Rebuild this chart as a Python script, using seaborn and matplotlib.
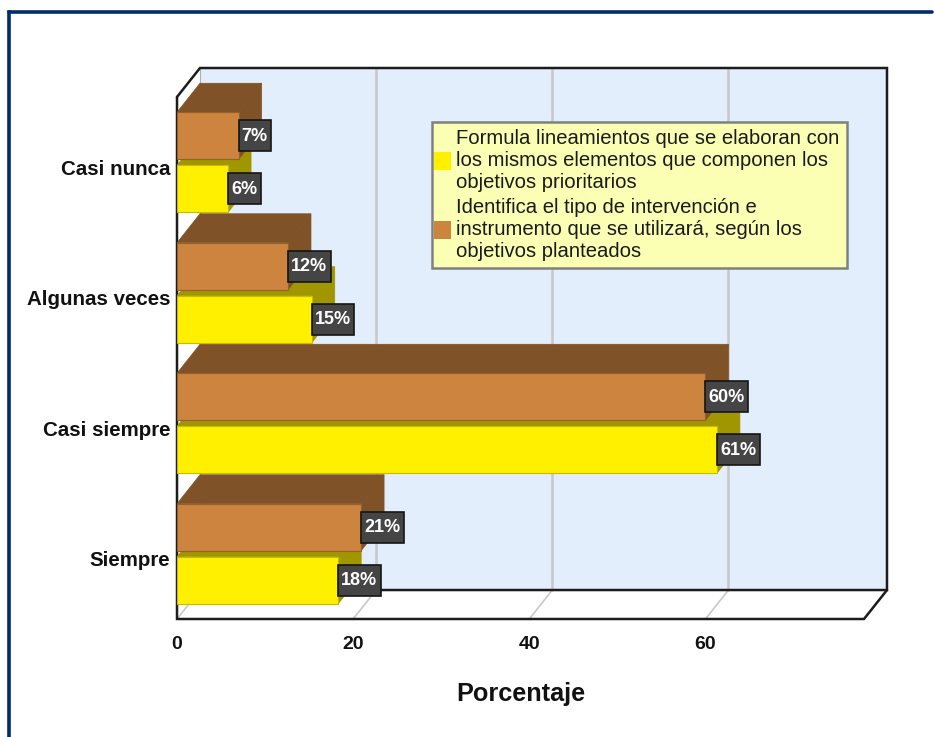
import matplotlib
matplotlib.use("Agg")
import matplotlib.pyplot as plt
from matplotlib.lines import Line2D
from matplotlib.patches import Polygon, Rectangle
from matplotlib.transforms import ScaledTranslation
import pandas as pd
import seaborn as sns

# ================================================================
# DATA
# ================================================================
categories = ["Casi nunca", "Algunas veces", "Casi siempre", "Siempre"]
serie_a = ("Formula lineamientos que se elaboran con\n"
           "los mismos elementos que componen los\n"
           "objetivos prioritarios")
serie_b = ("Identifica el tipo de intervención e\n"
           "instrumento que se utilizará, según los\n"
           "objetivos planteados")
values_a = [5.8, 15.3, 61.3, 18.3]
values_b = [7.0, 12.6, 60.0, 20.9]
labels_a = ["6%", "15%", "61%", "18%"]
labels_b = ["7%", "12%", "60%", "21%"]
x_ticks = [0, 20, 40, 60]

# ================================================================
# STYLE
# ================================================================
W, H, DPI = 934, 737, 100
FRONT_MAX = 78.0
DX = 2.61
DY = 0.222
YELLOW, YELLOW_DARK = "#FFF000", "#A09600"
BROWN, BROWN_DARK = "#CC843F", "#7F5228"
WALL = "#E2EEFB"
GRID = "#C8C8C8"
FRAME = "#1C1C1C"
NAVY = "#002B6E"

sns.set_theme(style="white")
plt.rcParams["font.family"] = ["Liberation Sans", "DejaVu Sans"]

df = pd.DataFrame({
    "categoria": categories * 2,
    "serie": [serie_b] * 4 + [serie_a] * 4,
    "valor": values_b + values_a,
})

fig = plt.figure(figsize=(W / DPI, H / DPI), dpi=DPI, facecolor="white")
ax = fig.add_axes([177 / W, 1 - 619 / H, 710 / W, 551 / H])

sns.barplot(
    data=df, x="valor", y="categoria", hue="serie", order=categories,
    hue_order=[serie_b, serie_a], palette={serie_a: YELLOW, serie_b: BROWN},
    orient="h", width=0.812, gap=0.113, saturation=1, errorbar=None, ax=ax,
    legend=False,
)
ax.set_xlim(0, FRONT_MAX + DX)
ax.set_ylim(3.5, -0.5 - DY)
ax.set_facecolor("none")
for spine in ax.spines.values():
    spine.set_visible(False)

# ================================================================
# 3D BOX (walls, floor, grid)
# ================================================================
y_top, y_bot = -0.5, 3.5
ax.add_patch(Polygon([(DX, y_top - DY), (FRONT_MAX + DX, y_top - DY),
                      (FRONT_MAX + DX, y_bot - DY), (DX, y_bot - DY)],
                     fc=WALL, ec="none", zorder=0))
for t in x_ticks:
    if t > 0:
        ax.plot([t + DX, t + DX], [y_top - DY, y_bot - DY], color=GRID, lw=1.8, zorder=1)
    ax.plot([t, t + DX], [y_bot, y_bot - DY], color=GRID, lw=1.2, zorder=1, clip_on=False)

# left edge of the back wall is only a thin grey line
ax.plot([DX, DX], [y_top - DY, y_bot - DY], color="#B0B0B0", lw=0.8, zorder=1)

outline = [
    [(DX, y_bot - DY), (FRONT_MAX + DX, y_bot - DY), (FRONT_MAX + DX, y_top - DY), (DX, y_top - DY), (0, y_top)],
    [(0, y_top), (0, y_bot), (FRONT_MAX, y_bot), (FRONT_MAX + DX, y_bot - DY)],
]
for pts in outline:
    ax.plot(*zip(*pts), color=FRAME, lw=1.8, zorder=1.5, clip_on=False, solid_joinstyle="miter")

# ================================================================
# BAR DEPTH AND VALUE LABELS
# ================================================================
def add_depth(container, dark, z):
    for bar in container:
        x, y, w, h = bar.get_x(), bar.get_y(), bar.get_width(), bar.get_height()
        end = x + w
        ax.add_patch(Polygon([(x, y), (end, y), (end + DX, y - DY), (x + DX, y - DY)],
                             fc=dark, ec=dark, lw=0.5, zorder=z))
        ax.add_patch(Polygon([(end, y), (end + DX, y - DY), (end + DX, y + h - DY), (end, y + h)],
                             fc=dark, ec=dark, lw=0.5, zorder=z))


def add_labels(container, labels):
    renderer = fig.canvas.get_renderer()
    for bar, text in zip(container, labels):
        end = bar.get_x() + bar.get_width()
        mid = bar.get_y() + bar.get_height() / 2
        px, py = ax.transData.transform((end, mid))
        txt = ax.annotate(text, (end, mid), xytext=(3.0 * 72 / DPI, -0.5), textcoords="offset points",
                          ha="left", va="center", color="white", fontsize=13,
                          fontweight="bold", zorder=11)
        width = txt.get_window_extent(renderer).width + 6.5
        inv = ax.transData.inverted()
        x0, y0 = inv.transform((px, py - 15.5))
        x1, y1 = inv.transform((px + width, py + 15.5))
        ax.add_patch(Rectangle((x0, y0), x1 - x0, y1 - y0, fc="#454545", ec="#151515",
                               lw=1.2, zorder=10, clip_on=False))


brown_bars, yellow_bars = ax.containers
add_depth(yellow_bars, YELLOW_DARK, 2)
add_depth(brown_bars, BROWN_DARK, 3)
for bar in yellow_bars:
    bar.set(zorder=4, edgecolor="#C9BC00", linewidth=0.8)
for bar in brown_bars:
    bar.set(zorder=4, edgecolor="#94602D", linewidth=0.8)
add_labels(brown_bars, labels_b)
add_labels(yellow_bars, labels_a)

# ================================================================
# AXES TEXT
# ================================================================
ax.set_xticks(x_ticks)
ax.set_xticklabels([str(t) for t in x_ticks], fontsize=14, fontweight="bold", color="#111111")
ax.tick_params(axis="x", length=0, pad=12)
ax.tick_params(axis="y", length=0, pad=5)
ax.set_yticks(range(len(categories)))
ax.set_yticklabels(categories, fontsize=14.8, fontweight="bold", color="#111111")
shift = ScaledTranslation(0, -5 / DPI, fig.dpi_scale_trans)
for lab in ax.get_yticklabels():
    lab.set_transform(lab.get_transform() + shift)
ax.set_ylabel("")
ax.set_xlabel("Porcentaje", fontsize=18.2, fontweight="bold", color="#111111", labelpad=21,
              x=(520.5 - 177) / 710)

# ================================================================
# LEGEND
# ================================================================
handles = [Rectangle((0, 0), 1, 1, fc=YELLOW, ec="none"), Rectangle((0, 0), 1, 1, fc=BROWN, ec="none")]
leg = ax.legend(
    handles, [serie_a, serie_b], loc="upper left",
    bbox_to_anchor=((432 - 177) / 710, 1 - (122 - 68) / 551),
    fontsize=14.6, frameon=True, fancybox=False, facecolor="#FAFFB4", edgecolor="#808080",
    framealpha=1, borderpad=0.35, labelspacing=0.3, handlelength=0.85, handleheight=1.0,
    handletextpad=0.0, borderaxespad=0,
)
leg.set_zorder(9)
leg.get_frame().set_linewidth(1.8)
for t in leg.get_texts():
    t.set_color("#1A1A1A")
    t.set_linespacing(1.2)
# swatches sit against the left side of the box
for h in leg.legend_handles:
    h.set_x(h.get_x() - 4.0)

# ================================================================
# OUTER BORDER
# ================================================================
fig.add_artist(Line2D([9 / W, 9 / W], [0, 1 - 12 / H], color=NAVY, lw=2.6, solid_capstyle="projecting"))
fig.add_artist(Line2D([9 / W, 932 / W], [1 - 12 / H, 1 - 12 / H], color=NAVY, lw=2.6))

fig.savefig("out.png", dpi=DPI, facecolor="white")
